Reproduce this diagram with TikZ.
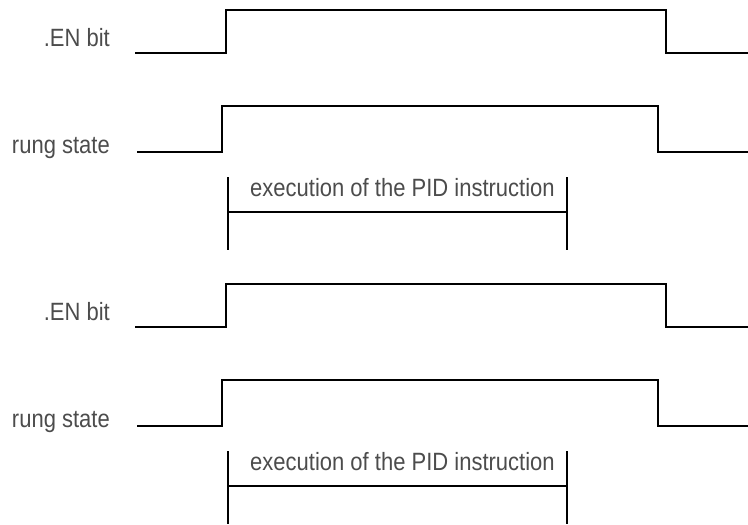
\documentclass[tikz,border=0pt]{standalone}
\usepackage{fontspec}
\newfontfamily\diagfont{Liberation Sans}[FakeStretch=0.88]
\usetikzlibrary{positioning,calc}

\begin{document}
\begin{tikzpicture}[
        x=1pt, y=-1pt,
        signame/.style={font=\diagfont\fontsize{25}{30}\selectfont, text=black!70, inner sep=0pt, anchor=base east},
        spantext/.style={font=\diagfont\fontsize{25}{30}\selectfont, text=black!70, inner sep=0pt, anchor=base west},
        wave/.style={draw=black, line width=1.5pt},
      ]
      \useasboundingbox (0,0) rectangle (748,525);
      % first timing chart
      \node [signame] (en1) at (110,46) {.EN bit};
      \node [signame] (rung1) at (110,153) {rung state};
      \coordinate (en1a) at (135,53);
      \coordinate (en1r) at (226,10);
      \coordinate (en1f) at (666,53);
      \coordinate (en1e) at (748,53);
      \coordinate (rung1a) at (137,152);
      \coordinate (rung1r) at (222,106);
      \coordinate (rung1f) at (658,152);
      \coordinate (rung1e) at (748,152);
      \coordinate (exec1t) at (228,177);
      \coordinate (exec1b) at (228,250);
      \coordinate (done1t) at (567,177);
      \coordinate (done1b) at (567,250);
      \node [spantext] (exec1) at (250,196) {execution of the PID instruction};
      \draw [wave] (en1a) -| (en1r) -| (en1f) -- (en1e);
      \draw [wave] (rung1a) -| (rung1r) -| (rung1f) -- (rung1e);
      \draw [wave] (exec1t) -- (exec1b);
      \draw [wave] (done1t) -- (done1b);
      \draw [wave] ($(exec1t)!0.48!(exec1b)$) -- ($(done1t)!0.48!(done1b)$);
      % second timing chart
      \node [signame] (en2) at (110,320) {.EN bit};
      \node [signame] (rung2) at (110,427) {rung state};
      \coordinate (en2a) at (135,327);
      \coordinate (en2r) at (226,284);
      \coordinate (en2f) at (666,327);
      \coordinate (en2e) at (748,327);
      \coordinate (rung2a) at (137,426);
      \coordinate (rung2r) at (222,380);
      \coordinate (rung2f) at (658,426);
      \coordinate (rung2e) at (748,426);
      \coordinate (exec2t) at (228,451);
      \coordinate (exec2b) at (228,524);
      \coordinate (done2t) at (567,451);
      \coordinate (done2b) at (567,524);
      \node [spantext] (exec2) at (250,470) {execution of the PID instruction};
      \draw [wave] (en2a) -| (en2r) -| (en2f) -- (en2e);
      \draw [wave] (rung2a) -| (rung2r) -| (rung2f) -- (rung2e);
      \draw [wave] (exec2t) -- (exec2b);
      \draw [wave] (done2t) -- (done2b);
      \draw [wave] ($(exec2t)!0.48!(exec2b)$) -- ($(done2t)!0.48!(done2b)$);
    \end{tikzpicture}
\end{document}
